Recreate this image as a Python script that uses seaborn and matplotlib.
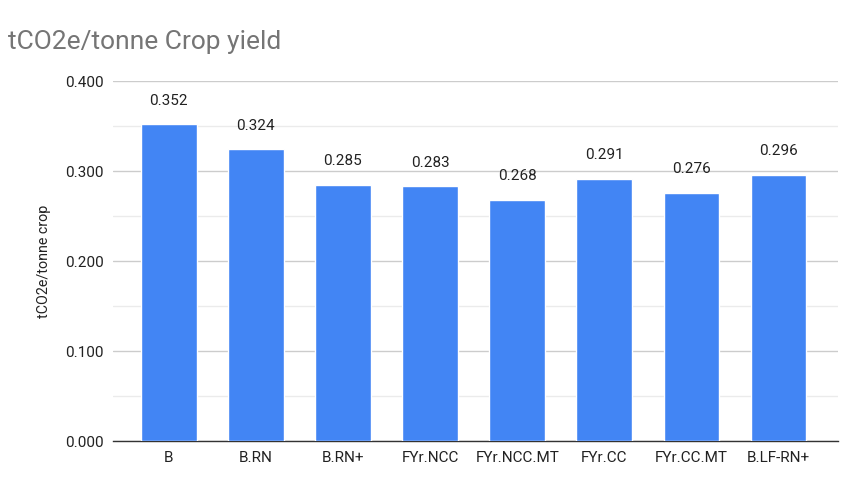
import matplotlib
matplotlib.use("Agg")
import matplotlib.pyplot as plt
import numpy as np
import pandas as pd
import seaborn as sns

# chart data
categories = ["B", "B.RN", "B.RN+", "FYr.NCC", "FYr.NCC.MT", "FYr.CC", "FYr.CC.MT", "B.LF-RN+"]
values = [0.352, 0.324, 0.285, 0.283, 0.268, 0.291, 0.276, 0.296]

df = pd.DataFrame({"scenario": categories, "value": values})

sns.set_theme(style="white")
plt.rcParams["font.family"] = ["Roboto", "DejaVu Sans"]

fig = plt.figure(figsize=(8.62, 4.94), dpi=100)
ax = fig.add_axes([0.131, 0.107, 0.841, 0.729])

sns.barplot(data=df, x="scenario", y="value", color="#4285F4", width=0.64,
            saturation=1, ax=ax, zorder=3)

ax.set_xlim(-0.64, len(categories) - 1 + 0.68)
ax.set_ylim(0, 0.4)
ax.set_yticks(np.arange(0, 0.41, 0.1))
ax.set_yticks(np.arange(0.05, 0.4, 0.1), minor=True)
ax.set_yticklabels([f"{t:.3f}" for t in np.arange(0, 0.41, 0.1)])
ax.grid(axis="y", which="major", color="#cccccc", linewidth=1, zorder=0)
ax.grid(axis="y", which="minor", color="#ebebeb", linewidth=1, zorder=0)
ax.tick_params(axis="both", which="both", length=0, labelsize=11, colors="#222222")
ax.tick_params(axis="y", pad=6.5)
ax.tick_params(axis="x", pad=7)

for s in ["top", "right", "left"]:
    ax.spines[s].set_visible(False)
ax.spines["bottom"].set_color("#333333")
ax.spines["bottom"].set_linewidth(1)
ax.set_axisbelow(True)

ax.set_xlabel("")
ax.set_ylabel("tCO2e/tonne crop", fontsize=10.3, color="#222222", labelpad=10)

for i, v in enumerate(values):
    ax.annotate(f"{v:.3f}", (i, v), xytext=(0, 12), textcoords="offset points",
                ha="center", va="bottom", fontsize=11, color="#222222")

fig.text(0.009, 0.915, "tCO2e/tonne Crop yield", fontsize=19, color="#757575",
         ha="left", va="center")

fig.savefig("out.png", dpi=100)
